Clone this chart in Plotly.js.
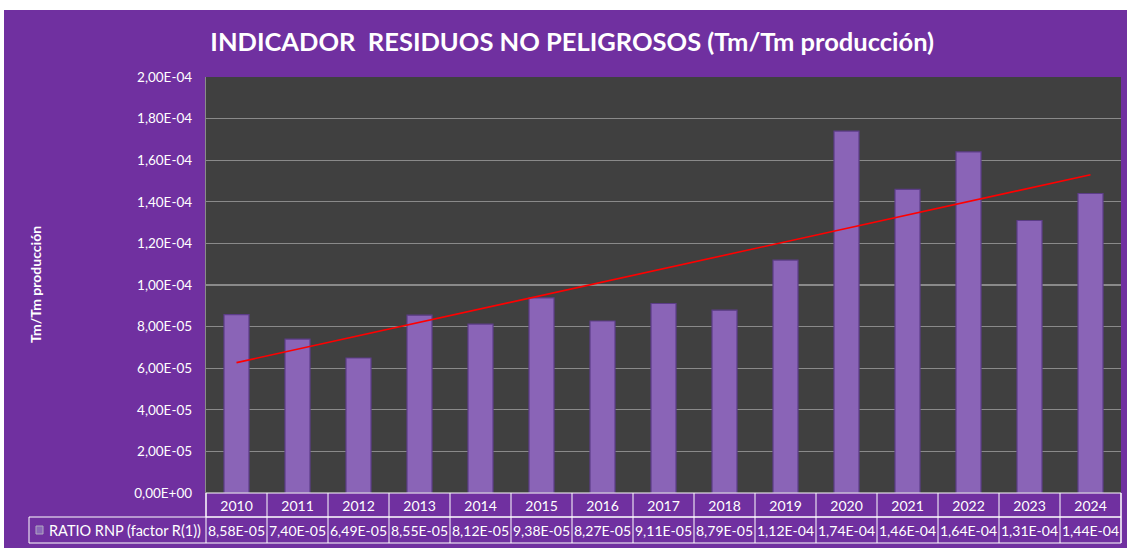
<!DOCTYPE html>
<html>
<head>
<meta charset="utf-8">
<script src="https://cdn.plot.ly/plotly-3.0.1.min.js"></script>
<style>
  html, body { margin: 0; padding: 0; background: #ffffff; }
  #chart { position: absolute; left: 4px; top: 10px; width: 1123px; height: 538px; }
</style>
</head>
<body>
<div id="chart"></div>
<script>
const years = ['2010','2011','2012','2013','2014','2015','2016','2017','2018','2019','2020','2021','2022','2023','2024'];
const ratioRNP = [8.58e-5, 7.40e-5, 6.49e-5, 8.55e-5, 8.12e-5, 9.38e-5, 8.27e-5, 9.11e-5, 8.79e-5, 1.12e-4, 1.74e-4, 1.46e-4, 1.64e-4, 1.31e-4, 1.44e-4];
const yTickVals = [0, 2e-5, 4e-5, 6e-5, 8e-5, 1e-4, 1.2e-4, 1.4e-4, 1.6e-4, 1.8e-4, 2e-4];
const yTickText = ['0,00E+00','2,00E-05','4,00E-05','6,00E-05','8,00E-05','1,00E-04','1,20E-04','1,40E-04','1,60E-04','1,80E-04','2,00E-04'];
const seriesName = 'RATIO RNP (factor R(1))';
const chartTitle = 'INDICADOR&nbsp;&nbsp;RESIDUOS NO PELIGROSOS (Tm/Tm producción)';
const yTitle = 'Tm/Tm producción';

function fmtSci(v) {
  const s = v.toExponential(2);
  const parts = s.split('e');
  const mant = parts[0].replace('.', ',');
  let exp = parseInt(parts[1], 10);
  const sign = exp < 0 ? '-' : '+';
  exp = Math.abs(exp);
  return mant + 'E' + sign + (exp < 10 ? '0' + exp : '' + exp);
}

// Linear trendline (least squares, like Excel)
const n = ratioRNP.length;
const idx = ratioRNP.map((_, i) => i);
const mx = idx.reduce((a, b) => a + b, 0) / n;
const my = ratioRNP.reduce((a, b) => a + b, 0) / n;
let sxy = 0, sxx = 0;
for (let i = 0; i < n; i++) { sxy += (i - mx) * (ratioRNP[i] - my); sxx += (i - mx) * (i - mx); }
const slope = sxy / sxx;
const intercept = my - slope * mx;
const trend = idx.map(i => intercept + slope * i);

const FONT = 'Lato, "Open Sans", sans-serif';
const WHITE = '#ffffff';

const plotH = 416, plotW = 915;
const row1Bottom = -24 / plotH;
const row2Bottom = -50 / plotH;
const row2Mid = -37 / plotH;
const labelLeft = -177 / plotW;

const shapes = [];
shapes.push({type: 'rect', xref: 'paper', yref: 'paper', x0: 0, x1: 1, y0: row1Bottom, y1: 0,
  line: {color: WHITE, width: 1}, fillcolor: 'rgba(0,0,0,0)', layer: 'above'});
shapes.push({type: 'rect', xref: 'paper', yref: 'paper', x0: labelLeft, x1: 1, y0: row2Bottom, y1: row1Bottom,
  line: {color: WHITE, width: 1}, fillcolor: 'rgba(0,0,0,0)', layer: 'above'});
for (let i = 0; i <= years.length; i++) {
  shapes.push({type: 'line', xref: 'paper', yref: 'paper', x0: i / years.length, x1: i / years.length, y0: row2Bottom, y1: 0,
    line: {color: WHITE, width: 1}, layer: 'above'});
}
shapes.push({type: 'rect', xref: 'paper', yref: 'paper', x0: -170 / plotW, x1: -163 / plotW, y0: -41 / plotH, y1: -33 / plotH,
  line: {color: '#b0a8c0', width: 1}, fillcolor: '#8a66b8', layer: 'above'});

const annotations = [];
annotations.push({xref: 'paper', yref: 'paper', x: -159 / plotW, y: row2Mid, xanchor: 'left', yanchor: 'middle',
  text: seriesName, showarrow: false, font: {family: FONT, size: 14.5, color: WHITE}});
years.forEach((yr, i) => {
  annotations.push({xref: 'paper', yref: 'paper', x: (i + 0.5) / years.length, y: row2Mid, xanchor: 'center', yanchor: 'middle',
    text: fmtSci(ratioRNP[i]), showarrow: false, font: {family: FONT, size: 14, color: WHITE}});
});
annotations.push({xref: 'paper', yref: 'paper', x: -171 / plotW, y: 0.5, xanchor: 'center', yanchor: 'middle',
  text: '<b>' + yTitle + '</b>', textangle: -90, showarrow: false, font: {family: FONT, size: 14, color: WHITE}});

const data = [
  {
    type: 'bar', x: years, y: ratioRNP, name: seriesName, width: 0.41,
    marker: {color: '#8a64b7', line: {color: '#5c3d88', width: 1.2}},
    hoverinfo: 'x+y'
  },
  {
    type: 'scatter', mode: 'lines', x: years, y: trend, name: 'Lineal',
    line: {color: '#ff0000', width: 1.6}, hoverinfo: 'skip'
  }
];

const layout = {
  width: 1123, height: 538,
  margin: {l: 202, r: 6, t: 67, b: 55},
  paper_bgcolor: '#7030a0',
  plot_bgcolor: '#404040',
  showlegend: false,
  title: {
    text: '<b>' + chartTitle + '</b>',
    xref: 'container', yref: 'container', x: 0.506, y: 1 - 32 / 538,
    xanchor: 'center', yanchor: 'middle',
    font: {family: FONT, size: 25.5, color: WHITE}
  },
  xaxis: {
    type: 'category', range: [-0.5, 14.5], showgrid: false, zeroline: false,
    showline: false, ticks: '', tickfont: {family: FONT, size: 14, color: WHITE},
    ticklabelstandoff: 3, fixedrange: true
  },
  yaxis: {
    range: [0, 2e-4], tickvals: yTickVals, ticktext: yTickText,
    showgrid: true, gridcolor: '#8a8a8a', gridwidth: 1.2,
    zeroline: false, showline: true, linecolor: '#8a8a8a', linewidth: 1.2, mirror: false,
    ticks: '', tickfont: {family: FONT, size: 13.5, color: WHITE}, ticklabelstandoff: 10,
    fixedrange: true
  },
  shapes: shapes,
  annotations: annotations
};

Plotly.newPlot('chart', data, layout, {displayModeBar: false, staticPlot: true});
</script>
</body>
</html>
